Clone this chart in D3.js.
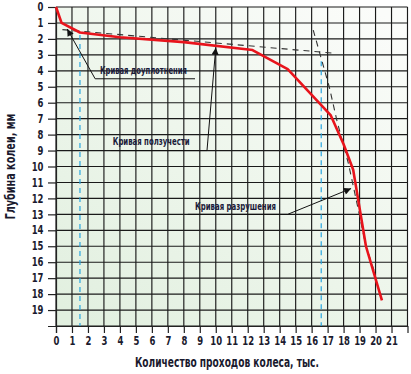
<!DOCTYPE html>
<html>
<head>
<meta charset="utf-8">
<script src="https://cdn.jsdelivr.net/npm/d3@7"></script>
<style>
  html, body { margin: 0; padding: 0; background: #fff; }
  svg { display: block; }
  text { font-family: "Liberation Sans Narrow", "DejaVu Sans Condensed", "Roboto Condensed", sans-serif; font-weight: bold; }
</style>
</head>
<body>
<svg id="chart" width="411" height="374"></svg>
<script>
// --- data (passes in thousands, rut depth in mm) ---
const xTicks = d3.range(0, 22)
const yTicks = d3.range(0, 20)

// main red curve
const rutCurve = [
  [0, 0], [0.35, 1.0], [1.5, 1.6], [4, 1.9], [8, 2.2], [12.3, 2.7],
  [13.4, 3.3], [14.5, 3.9], [17.2, 6.8], [18.0, 8.6], [18.6, 10.2],
  [18.9, 12.0], [19.4, 15.0], [20.4, 18.4]
]

// tangent of the creep stage
const creepTangent = [[0.4, 1.42], [17.45, 2.9]]
// tangent of the failure stage
const failureTangent = [
  [16.1, 1.45], [17.1, 5.0], [17.6, 7.2], [18.3, 9.8],
  [18.9, 12.6], [19.4, 15.0], [20.0, 16.8]
]
// stage boundaries
const stageBounds = [
  { x: 1.5, y0: 1.75, y1: 20 },
  { x: 16.6, y0: 3.4, y1: 20 }
]

// callouts
const callouts = [
  { label: 'Кривая доуплотнения', at: [2.75, 4.2], len: 87, leader: [[8.7, 4.5], [2.45, 4.5], [0.7, 1.38]] },
  { label: 'Кривая ползучести', at: [3.55, 8.65], len: 77, leader: [[3.4, 9.0], [9.45, 9.0], [10.0, 2.55]] },
  { label: 'Кривая разрушения', at: [8.7, 12.75], len: 81, leader: [[8.25, 13.0], [14.5, 13.0], [18.47, 11.38]] }
]

// --- layout ---
const svg = d3.select('#chart')
const x = d3.scaleLinear().domain([0, 22]).range([56, 407.5])
const y = d3.scaleLinear().domain([0, 20]).range([7, 326])

const defs = svg.append('defs')
const grad = defs.append('linearGradient')
  .attr('id', 'bg').attr('x1', 0.9).attr('y1', 0).attr('x2', 0.1).attr('y2', 1)
grad.append('stop').attr('offset', 0).attr('stop-color', '#fbfcfa')
grad.append('stop').attr('offset', 0.5).attr('stop-color', '#eef6ec')
grad.append('stop').attr('offset', 1).attr('stop-color', '#e2f0e0')

defs.append('marker')
  .attr('id', 'arrow')
  .attr('viewBox', '0 0 10 10')
  .attr('refX', 10).attr('refY', 5)
  .attr('markerWidth', 10).attr('markerHeight', 7)
  .attr('markerUnits', 'userSpaceOnUse')
  .attr('orient', 'auto')
  .append('path')
  .attr('d', 'M0,0 L10,5 L0,10 Z')
  .attr('fill', '#111')

// plot background
svg.append('rect')
  .attr('x', x(0)).attr('y', y(0))
  .attr('width', x(22) - x(0)).attr('height', y(20) - y(0))
  .attr('fill', 'url(#bg)')

// grid
const grid = svg.append('g').attr('stroke', '#1a1a1a').attr('stroke-width', 1.15)
grid.selectAll('line.v')
  .data(d3.range(0, 23))
  .enter().append('line')
  .attr('class', 'v')
  .attr('x1', d => x(d)).attr('x2', d => x(d))
  .attr('y1', y(0)).attr('y2', y(20))
grid.selectAll('line.h')
  .data(d3.range(0, 21))
  .enter().append('line')
  .attr('class', 'h')
  .attr('x1', x(0)).attr('x2', x(22))
  .attr('y1', d => y(d)).attr('y2', d => y(d))

// axes
const xAxis = svg.append('g')
  .attr('transform', `translate(0,${y(20)})`)
  .call(d3.axisBottom(x).tickValues(xTicks).tickSize(7).tickPadding(4))
const yAxis = svg.append('g')
  .attr('transform', `translate(${x(0)},0)`)
  .call(d3.axisLeft(y).tickValues(yTicks).tickSize(8).tickPadding(4))

;[xAxis, yAxis].forEach(ax => {
  ax.select('.domain').attr('stroke', '#222').attr('stroke-width', 1.2)
  ax.selectAll('.tick line').attr('stroke', '#222').attr('stroke-width', 1.2)
  ax.selectAll('.tick text')
    .attr('fill', '#1a1a2e')
    .style('font-size', '11.5px')
    .style('font-family', '"Liberation Sans Narrow", "DejaVu Sans Condensed", sans-serif')
    .style('font-weight', 'bold')
})
// condensed look for tick labels
xAxis.selectAll('.tick text').attr('transform', 'scale(0.82,1)')
yAxis.selectAll('.tick text').attr('x', -12.5 / 0.82).attr('transform', 'scale(0.82,1)')

// stage boundaries (blue dashed)
svg.append('g')
  .selectAll('line')
  .data(stageBounds)
  .enter().append('line')
  .attr('x1', d => x(d.x)).attr('x2', d => x(d.x))
  .attr('y1', d => y(d.y0)).attr('y2', d => y(d.y1))
  .attr('stroke', '#2aa6e0')
  .attr('stroke-width', 1.2)
  .attr('stroke-dasharray', '5,4')

const line = d3.line().x(d => x(d[0])).y(d => y(d[1]))

// tangents (black dashed)
;[creepTangent, failureTangent].forEach(pts => {
  svg.append('path')
    .attr('d', line(pts))
    .attr('fill', 'none')
    .attr('stroke', '#333')
    .attr('stroke-width', 1.1)
    .attr('stroke-dasharray', '6,5')
})

// main curve
svg.append('path')
  .attr('d', line(rutCurve))
  .attr('fill', 'none')
  .attr('stroke', '#e8141c')
  .attr('stroke-width', 2.6)
  .attr('stroke-linejoin', 'round')

// callouts
const co = svg.append('g')
co.selectAll('path')
  .data(callouts)
  .enter().append('path')
  .attr('d', d => line(d.leader))
  .attr('fill', 'none')
  .attr('stroke', '#111')
  .attr('stroke-width', 1)
  .attr('marker-end', 'url(#arrow)')
co.selectAll('text')
  .data(callouts)
  .enter().append('text')
  .attr('x', d => x(d.at[0]))
  .attr('y', d => y(d.at[1]))
  .attr('fill', '#1b1b3a')
  .attr('textLength', d => d.len)
  .attr('lengthAdjust', 'spacingAndGlyphs')
  .style('font-size', '10px')
  .text(d => d.label)

// axis titles
svg.append('text')
  .attr('transform', `translate(15,${y(10)}) rotate(-90)`)
  .attr('text-anchor', 'middle')
  .attr('fill', '#1a1a2e')
  .attr('textLength', 106)
  .attr('lengthAdjust', 'spacingAndGlyphs')
  .style('font-size', '14px')
  .text('Глубина колеи, мм')

svg.append('text')
  .attr('x', x(10.7))
  .attr('y', 367)
  .attr('text-anchor', 'middle')
  .attr('fill', '#1a1a2e')
  .attr('textLength', 184)
  .attr('lengthAdjust', 'spacingAndGlyphs')
  .style('font-size', '13.5px')
  .text('Количество проходов колеса, тыс.')
</script>
</body>
</html>
